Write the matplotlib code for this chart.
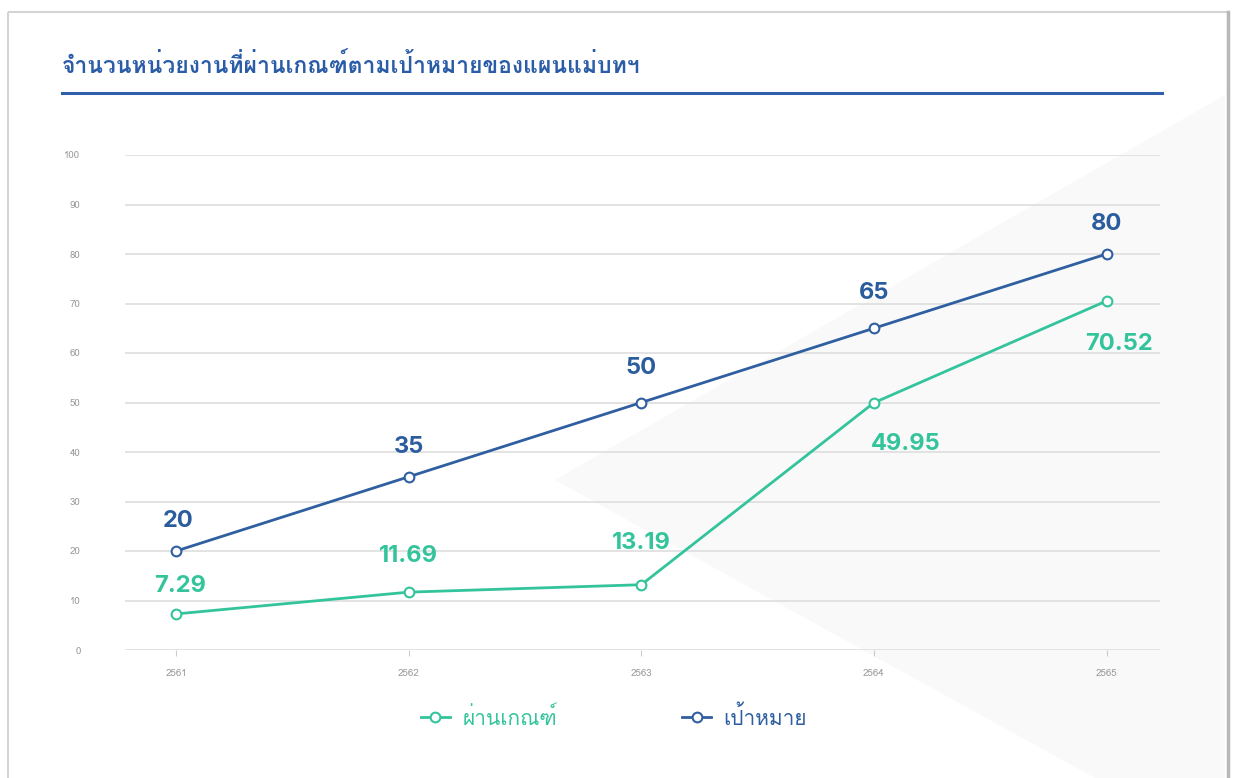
import matplotlib
matplotlib.use("Agg")
import matplotlib.pyplot as plt
from matplotlib import font_manager
from matplotlib.ft2font import FT2Font
from matplotlib.lines import Line2D
from matplotlib.patches import Polygon, Rectangle

# ---------- data ----------
years = [2561, 2562, 2563, 2564, 2565]
passed = [7.29, 11.69, 13.19, 49.95, 70.52]
target = [20, 35, 50, 65, 80]
passed_lbl = ["7.29", "11.69", "13.19", "49.95", "70.52"]
target_lbl = ["20", "35", "50", "65", "80"]
title = "จำนวนหน่วยงานที่ผ่านเกณฑ์ตามเป้าหมายของแผนแม่บทฯ"
leg_names = ["ผ่านเกณฑ์", "เป้าหมาย"]

# label offsets in pixels (style, not data)
target_off = [(2, 30), (0, 30), (0, 34), (0, 35), (0, 30)]
passed_off = [(4, 28), (0, 36), (0, 42), (32, -41), (12, -43)]

GREEN = "#33c49c"
BLUE = "#2f5fa0"


# ---------- find a font that has Thai glyphs ----------
def thai_fonts():
    found = []
    for f in font_manager.fontManager.ttflist:
        try:
            cm = FT2Font(f.fname).get_charmap()
        except Exception:
            continue
        if 0x0E08 in cm and 0x0E01 in cm:
            found.append(f.name)
    return list(dict.fromkeys(found))

th = thai_fonts()
plt.rcParams["font.family"] = th + ["DejaVu Sans"]

W, H = 1235, 778
fig = plt.figure(figsize=(W / 100, H / 100), dpi=100)
fig.patch.set_facecolor("white")

# card background + faint diagonal decoration
bg = fig.add_axes([0, 0, 1, 1], zorder=-5)
bg.set_xlim(0, W); bg.set_ylim(H, 0); bg.axis("off")
bg.add_patch(Polygon([(555, 480), (1225, 95), (1225, 778), (1095, 778)],
                     closed=True, color="#f9f9f9", lw=0))
bg.add_patch(Rectangle((8, 12), 1220, 780, fill=False, ec="#d4d4d4", lw=1.5))
bg.plot([1228, 1228], [12, 778], color="#b8b8b8", lw=2.5)
bg.plot([62, 1162], [93, 93], color="#2f5fa8", lw=2.2)
bg.text(62, 73, title, fontsize=16.5, fontweight="bold", color="#2b5ca8",
        va="baseline", ha="left")

# ---------- main plot ----------
ax = fig.add_axes([125 / W, 1 - 650 / H, 1035 / W, 495 / H])
ax.patch.set_alpha(0)
ax.set_xlim(2560.78, 2565.23)
ax.set_ylim(0, 100)
ax.set_yticks(range(0, 101, 10))
ax.set_xticks(years)
ax.grid(axis="y", color="#dedede", lw=1.2)
for s in ax.spines.values():
    s.set_visible(False)
ax.tick_params(axis="y", length=0, pad=32, labelsize=7, labelcolor="#9a9a9a")
ax.tick_params(axis="x", length=4, color="#cccccc", pad=10, labelsize=7,
               labelcolor="#9a9a9a")

ax.plot(years, target, color=BLUE, lw=2, marker="o", ms=7, mfc="white",
        mec=BLUE, mew=1.5, zorder=4)
ax.plot(years, passed, color=GREEN, lw=2, marker="o", ms=7, mfc="white",
        mec=GREEN, mew=1.5, zorder=4)

num_font = ["Inter", "DejaVu Sans"]
for x, y, t, o in zip(years, target, target_lbl, target_off):
    ax.annotate(t, (x, y), xytext=o, textcoords="offset pixels",
                ha="center", va="center", fontsize=17, fontweight="bold",
                color="#2b5c9e", family=num_font)
for x, y, t, o in zip(years, passed, passed_lbl, passed_off):
    ax.annotate(t, (x, y), xytext=o, textcoords="offset pixels",
                ha="center", va="center", fontsize=17, fontweight="bold",
                color=GREEN, family=num_font)

handles = [Line2D([0], [0], color=GREEN, lw=2, marker="o", ms=7, mfc="white",
                  mec=GREEN, mew=1.5, label=leg_names[0]),
           Line2D([0], [0], color=BLUE, lw=2, marker="o", ms=7, mfc="white",
                  mec=BLUE, mew=1.5, label=leg_names[1])]
fig.legend(handles=handles, loc="center", bbox_to_anchor=(0.497, 1 - 717 / H),
           ncol=2, frameon=False, fontsize=15, handlelength=1.4,
           handletextpad=0.6, columnspacing=6.0, labelcolor="linecolor")

fig.savefig("out.png", dpi=100)
